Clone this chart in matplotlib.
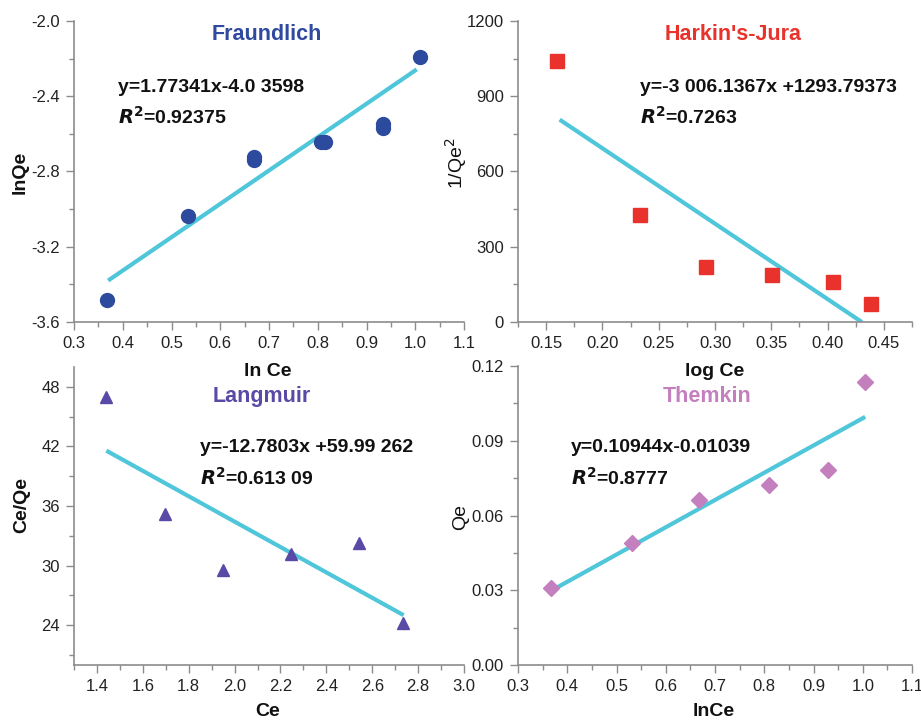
import numpy as np
import matplotlib
matplotlib.use('Agg')
from matplotlib import pyplot as plt
from matplotlib.ticker import MultipleLocator, FormatStrFormatter

plt.rcParams['font.family'] = ['Liberation Sans', 'DejaVu Sans']

# Fraundlich
fr_x = [0.367, 0.533, 0.669, 0.669, 0.806, 0.814, 0.934, 0.934, 1.009]
fr_y = [-3.485, -3.035, -2.721, -2.737, -2.641, -2.641, -2.548, -2.569, -2.193]
fr_fit = (1.77341, -4.03598)
fr_range = (0.37, 1.003)

# Harkin's-Jura
hj_x = [0.160, 0.233, 0.292, 0.351, 0.4045, 0.439]
hj_y = [1041, 425, 220, 187, 161, 72]
hj_fit = (-3006.1367, 1293.79373)
hj_range = (0.162, 0.4304)

# Langmuir
la_x = [1.438, 1.695, 1.951, 2.246, 2.541, 2.734]
la_y = [47.0, 35.2, 29.6, 31.2, 32.3, 24.2]
la_fit = (-12.7803, 59.99262)
la_range = (1.441, 2.737)

# Themkin
th_x = [0.368, 0.532, 0.668, 0.810, 0.929, 1.004]
th_y = [0.0308, 0.0488, 0.0662, 0.0722, 0.0783, 0.1136]
th_fit = (0.10944, -0.01039)
th_range = (0.37, 1.005)

W, H = 921, 723
fig = plt.figure(figsize=(W / 100, H / 100), dpi=100)
cyan = '#4fc6da'
grey = '#8c8c8c'


def px_axes(x0, y0, x1, y1):
    return fig.add_axes([x0 / W, 1 - y1 / H, (x1 - x0) / W, (y1 - y0) / H])


def style(ax, xlim, ylim, xmaj, xmin, ymaj, ymin, xfmt, yfmt):
    ax.set_xlim(*xlim)
    ax.set_ylim(*ylim)
    ax.xaxis.set_major_locator(MultipleLocator(xmaj))
    ax.xaxis.set_minor_locator(MultipleLocator(xmin))
    ax.yaxis.set_major_locator(MultipleLocator(ymaj))
    ax.yaxis.set_minor_locator(MultipleLocator(ymin))
    ax.xaxis.set_major_formatter(FormatStrFormatter(xfmt))
    ax.yaxis.set_major_formatter(FormatStrFormatter(yfmt))
    for s in ['top', 'right']:
        ax.spines[s].set_visible(False)
    for s in ['left', 'bottom']:
        ax.spines[s].set_color(grey)
        ax.spines[s].set_linewidth(1.2)
    ax.tick_params(which='major', direction='out', length=6, width=1, color=grey,
                   labelsize=12, labelcolor='#222222', pad=4)
    ax.tick_params(which='minor', direction='out', length=3.5, width=1, color=grey)
    ax.patch.set_alpha(0)


def fit_line(ax, fit, rng):
    xs = np.array(rng)
    ax.plot(xs, fit[0] * xs + fit[1], color=cyan, lw=3, solid_capstyle='butt', zorder=2)


def label(x, y, s, **kw):
    fig.text(x / W, 1 - y / H, s, **kw)


# top-left
ax1 = px_axes(74, 21, 464, 322)
style(ax1, (0.3, 1.1), (-3.6, -2.0), 0.1, 0.05, 0.4, 0.2, '%.1f', '%.1f')
fit_line(ax1, fr_fit, fr_range)
ax1.plot(fr_x, fr_y, 'o', color='#2d4b9e', ms=10, zorder=3)

# top-right
ax2 = px_axes(518, 21, 912, 322)
style(ax2, (0.125, 0.475), (0, 1200), 0.05, 0.025, 300, 150, '%.2f', '%d')
fit_line(ax2, hj_fit, hj_range)
ax2.plot(hj_x, hj_y, 's', color='#e8322b', ms=10, zorder=3)

# bottom-left
ax3 = px_axes(74, 367, 464, 665)
style(ax3, (1.3, 3.0), (20, 50), 0.2, 0.1, 6, 3, '%.1f', '%d')
fit_line(ax3, la_fit, la_range)
ax3.plot(la_x, la_y, '^', color='#5a4aa6', ms=9, zorder=3)

# bottom-right
ax4 = px_axes(518, 366, 912, 665)
style(ax4, (0.3, 1.1), (0, 0.12), 0.1, 0.05, 0.03, 0.015, '%.1f', '%.2f')
fit_line(ax4, th_fit, th_range)
ax4.plot(th_x, th_y, 'D', color='#c47fbf', ms=8.5, zorder=3)

# titles
tkw = dict(fontsize=15.5, fontweight='bold', ha='center', va='center')
label(267, 35, 'Fraundlich', color='#2f4a9e', **tkw)
label(733, 35, "Harkin's-Jura", color='#e8322b', **tkw)
label(262, 396, 'Langmuir', color='#5a4aa6', **tkw)
label(707, 396, 'Themkin', color='#c47fbf', **tkw)

# equations
ekw = dict(fontsize=14, fontweight='bold', ha='left', va='center', color='#111111')
r2 = r'$\mathbfit{R}^{\mathbf{2}}$'
label(118, 87, 'y=1.77341x-4.0 3598', **ekw)
label(118, 117, r2 + '=0.92375', **ekw)
label(640, 87, 'y=-3 006.1367x +1293.79373', **ekw)
label(640, 117, r2 + '=0.7263', **ekw)
label(200, 448, 'y=-12.7803x +59.99 262', **ekw)
label(200, 478, r2 + '=0.613 09', **ekw)
label(571, 448, 'y=0.10944x-0.01039', **ekw)
label(571, 478, r2 + '=0.8777', **ekw)

# axis labels
lkw = dict(fontsize=14, ha='center', va='center', color='#111111')
label(268, 372, 'ln Ce', fontweight='bold', **lkw)
label(715, 372, 'log Ce', fontweight='bold', **lkw)
label(268, 712, 'Ce', fontweight='bold', **lkw)
label(714, 712, 'lnCe', fontweight='bold', **lkw)
label(20, 172, 'lnQe', fontweight='bold', rotation=90, **lkw)
label(456, 163, '1/Qe$^2$', rotation=90, **lkw)
label(22, 505, 'Ce/Qe', fontweight='bold', rotation=90, **lkw)
label(461, 517, 'Qe', rotation=90, **lkw)

fig.savefig('out.png', dpi=100)
